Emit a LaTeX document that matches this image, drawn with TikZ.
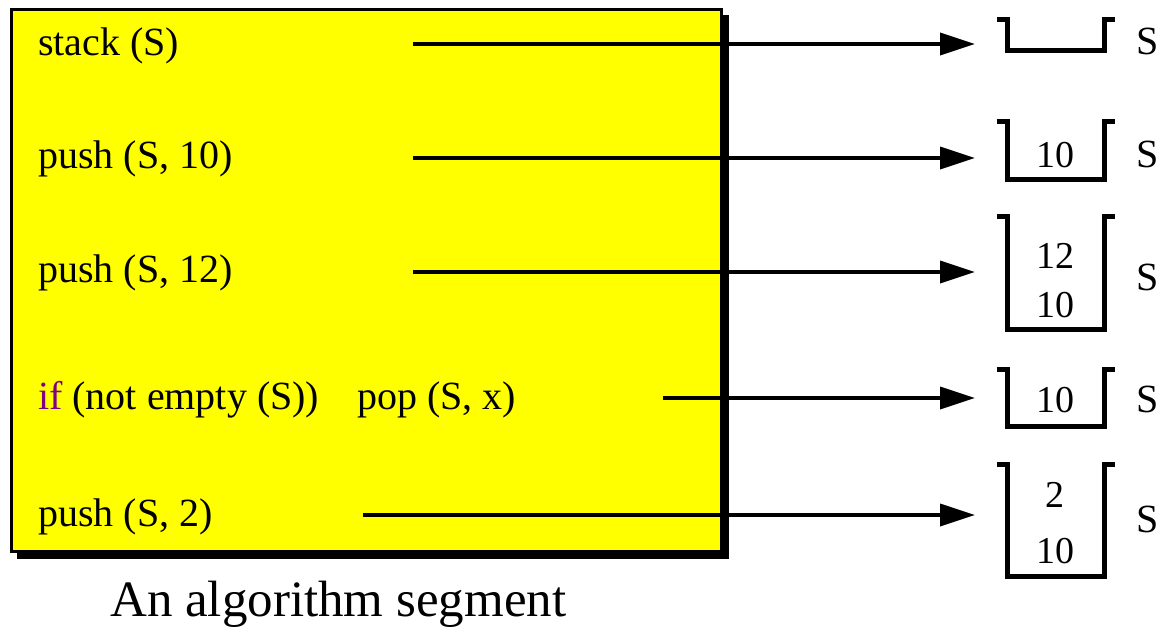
\documentclass[tikz,border=0pt]{standalone}
\usepackage{fontspec}
\setmainfont{Liberation Serif}
\usetikzlibrary{arrows.meta}
\definecolor{boxyellow}{RGB}{255,255,0}
\definecolor{ifpurple}{RGB}{128,0,128}
\tikzset{
  lbl/.style={anchor=base west, inner sep=0pt, font=\fontsize{40}{48}\selectfont},
  num/.style={anchor=base, inner sep=0pt, font=\fontsize{38}{45}\selectfont},
  slbl/.style={anchor=base west, inner sep=0pt, font=\fontsize{40}{48}\selectfont},
  stk/.style={inner sep=0pt, minimum width=96pt},
  bracket/.style={line width=5pt, line join=miter},
  arr/.style={line width=3.5pt, -{Triangle[length=35pt,width=22pt]}},
}
\begin{document}
\begin{tikzpicture}[x=1pt, y=-1pt]
\useasboundingbox (0,0) rectangle (1162,629);
% box with shadow
\fill[black] (17,15) rectangle (729,559);
\node[draw=black, line width=3pt, fill=boxyellow, inner sep=0pt, minimum width=710pt, minimum height=542pt, anchor=north west] (box) at (10,8) {};
% algorithm text
\node[lbl] (t1) at (38,55) {stack (S)};
\node[lbl] (t2) at (38,168) {push (S, 10)};
\node[lbl] (t3) at (38,282) {push (S, 12)};
\node[lbl] (t4) at (38,409) {\textcolor{ifpurple}{if} (not empty (S))};
\node[lbl] (t4b) at (357,409) {pop (S, x)};
\node[lbl] (t5) at (38,526) {push (S, 2)};
\node[anchor=base west, inner sep=0pt, font=\fontsize{51}{60}\selectfont] (cap) at (110,616) {An algorithm segment};
% arrow coordinates
\coordinate (a1) at (413,44);  \coordinate (e1) at (975,44);
\coordinate (a2) at (413,158); \coordinate (e2) at (975,158);
\coordinate (a3) at (413,272); \coordinate (e3) at (975,272);
\coordinate (a4) at (663,398); \coordinate (e4) at (975,398);
\coordinate (a5) at (363,515); \coordinate (e5) at (975,515);
\foreach \i in {1,...,5} {\draw[arr] (a\i) -- (e\i);}
% stacks
\node[stk, minimum height=30.5pt] (s1) at (1056,35.25) {};
\node[stk, minimum height=57.5pt] (s2) at (1056,150.75) {};
\node[stk, minimum height=112.5pt] (s3) at (1056,273.25) {};
\node[stk, minimum height=57pt] (s4) at (1056,398) {};
\node[stk, minimum height=111.5pt] (s5) at (1056,520.75) {};
\foreach \i in {1,...,5} {
  \draw[bracket] ([xshift=-11pt]s\i.north west) -- (s\i.north west) -- (s\i.south west) -- (s\i.south east) -- (s\i.north east) -- ([xshift=11pt]s\i.north east);
}
% stack contents
\node[num] (n2) at (1055,167) {10};
\node[num] (n3a) at (1055,268) {12};
\node[num] (n3b) at (1055,317) {10};
\node[num] (n4) at (1055,412) {10};
\node[num] (n5a) at (1055,507) {2};
\node[num] (n5b) at (1055,563) {10};
% S labels
\node[slbl] (l1) at (1136,54) {S};
\node[slbl] (l2) at (1136,167) {S};
\node[slbl] (l3) at (1136,290) {S};
\node[slbl] (l4) at (1136,412) {S};
\node[slbl] (l5) at (1136,532) {S};
\end{tikzpicture}
\end{document}
